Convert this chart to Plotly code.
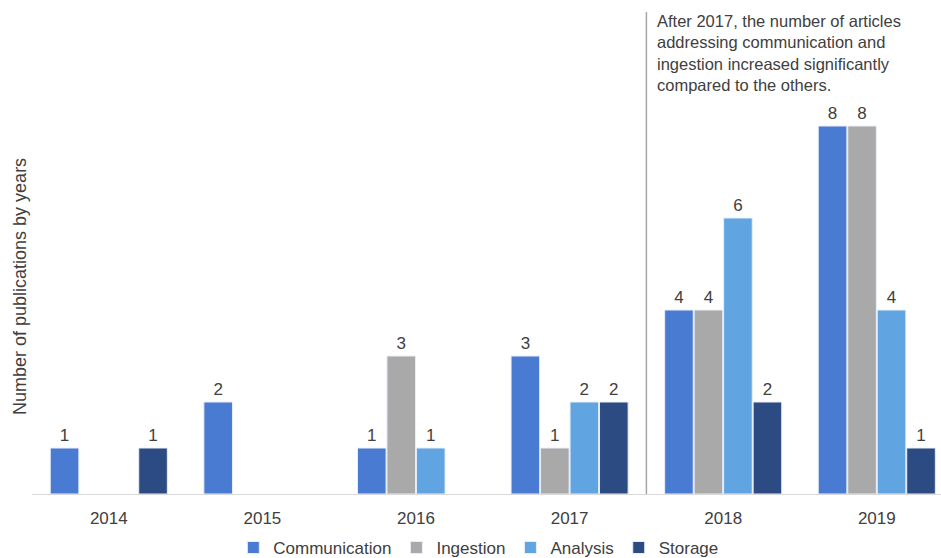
import plotly.graph_objects as go

years = ["2014", "2015", "2016", "2017", "2018", "2019"]
communication = [1, 2, 1, 3, 4, 8]
ingestion = [None, None, 3, 1, 4, 8]
analysis = [None, None, 1, 2, 6, 4]
storage = [1, None, None, 2, 2, 1]

series = [
    ("Communication", communication, "#4a7bd2"),
    ("Ingestion", ingestion, "#a9a9a9"),
    ("Analysis", analysis, "#60a5e2"),
    ("Storage", storage, "#2b4b82"),
]

FONT = "Liberation Sans, Arial, sans-serif"
TEXT = "#404040"

fig = go.Figure()
for name, vals, color in series:
    fig.add_trace(go.Bar(
        x=years, y=vals, name=name,
        marker=dict(color=color, line=dict(color="#e8eef8", width=1)),
        text=[v if v is not None else "" for v in vals],
        textposition="outside",
        textfont=dict(family=FONT, size=17, color=TEXT),
        cliponaxis=False,
    ))

# divider between the periods before and after 2017
fig.add_shape(type="line", xref="x", yref="paper",
              x0=3.5, x1=3.5, y0=0, y1=1.048,
              line=dict(color="#a6a6a6", width=1.5))

fig.add_annotation(
    xref="paper", yref="paper", x=0.6855, y=1.052,
    xanchor="left", yanchor="top", align="left", showarrow=False,
    text="After 2017, the number of articles<br>addressing communication and<br>"
         "ingestion increased significantly<br>compared to the others.",
    font=dict(family=FONT, size=16.5, color=TEXT),
)

fig.add_annotation(
    xref="paper", yref="paper", x=-0.0132, y=0.45,
    xanchor="center", yanchor="middle", showarrow=False, textangle=-90,
    text="Number of publications by years",
    font=dict(family=FONT, size=18, color=TEXT),
)

fig.update_layout(
    width=941, height=558,
    margin=dict(l=32, r=0, t=34, b=64, autoexpand=False),
    paper_bgcolor="white", plot_bgcolor="white",
    barmode="group", bargap=0.232, bargroupgap=0.03,
    font=dict(family=FONT, color=TEXT),
    showlegend=True,
    legend=dict(orientation="h", x=0.491, xanchor="center",
                yref="container", y=0.018, yanchor="middle",
                font=dict(family=FONT, size=17, color=TEXT),
                itemwidth=30, tracegroupgap=0),
    xaxis=dict(range=[-0.5, 5.418], showline=True, linecolor="#d9d9d9", linewidth=1,
               ticks="", ticklabelstandoff=9,
               tickfont=dict(family=FONT, size=17, color=TEXT),
               showgrid=False, fixedrange=True, automargin=False),
    yaxis=dict(range=[0, 10], showticklabels=False, showgrid=False,
               zeroline=False, showline=False, fixedrange=True, automargin=False),
)

fig.write_html("out.html")
